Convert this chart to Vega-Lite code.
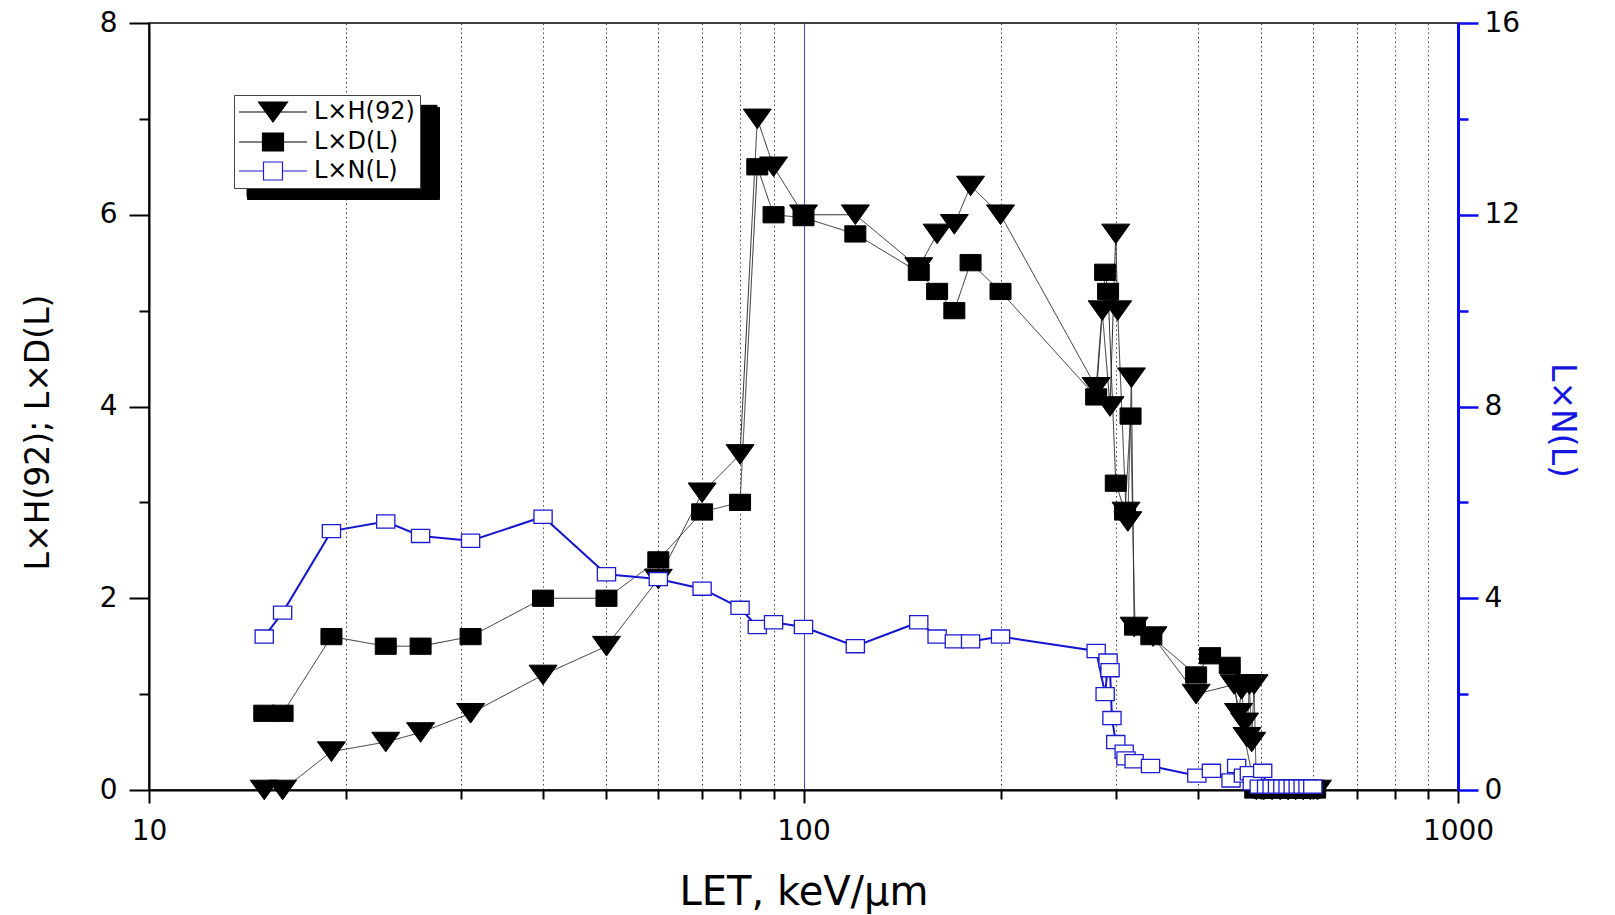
{
  "$schema": "https://vega.github.io/schema/vega-lite/v6.json",
  "width": 1309,
  "height": 767,
  "autosize": {"type": "none"},
  "padding": {"left": 149, "top": 23, "right": 157, "bottom": 125},
  "background": "white",
  "config": {
    "font": "DejaVu Sans",
    "axis": {"labelFont": "DejaVu Sans", "titleFont": "DejaVu Sans", "labelColor": "black", "titleColor": "black", "titleFontWeight": "normal", "domainColor": "black", "tickColor": "black"},
    "legend": {"labelFont": "DejaVu Sans"},
    "view": {"stroke": "black", "strokeWidth": 1.5}
  },
  "datasets": {
    "hd": [
      {"series": "L×H(92)", "let": 15, "v": 0},
      {"series": "L×H(92)", "let": 16, "v": 0},
      {"series": "L×H(92)", "let": 19, "v": 0.4},
      {"series": "L×H(92)", "let": 23, "v": 0.5},
      {"series": "L×H(92)", "let": 26, "v": 0.6},
      {"series": "L×H(92)", "let": 31, "v": 0.8},
      {"series": "L×H(92)", "let": 40, "v": 1.2},
      {"series": "L×H(92)", "let": 50, "v": 1.5},
      {"series": "L×H(92)", "let": 60, "v": 2.2},
      {"series": "L×H(92)", "let": 70, "v": 3.1},
      {"series": "L×H(92)", "let": 80, "v": 3.5},
      {"series": "L×H(92)", "let": 85, "v": 7.0},
      {"series": "L×H(92)", "let": 90, "v": 6.5},
      {"series": "L×H(92)", "let": 100, "v": 6.0},
      {"series": "L×H(92)", "let": 120, "v": 6.0},
      {"series": "L×H(92)", "let": 150, "v": 5.45},
      {"series": "L×H(92)", "let": 160, "v": 5.8},
      {"series": "L×H(92)", "let": 170, "v": 5.9},
      {"series": "L×H(92)", "let": 180, "v": 6.3},
      {"series": "L×H(92)", "let": 200, "v": 6.0},
      {"series": "L×H(92)", "let": 280, "v": 4.2},
      {"series": "L×H(92)", "let": 286, "v": 5.0},
      {"series": "L×H(92)", "let": 294, "v": 4.0},
      {"series": "L×H(92)", "let": 300, "v": 5.8},
      {"series": "L×H(92)", "let": 302, "v": 5.0},
      {"series": "L×H(92)", "let": 311, "v": 2.9},
      {"series": "L×H(92)", "let": 313, "v": 2.8},
      {"series": "L×H(92)", "let": 317, "v": 4.3},
      {"series": "L×H(92)", "let": 320, "v": 1.7},
      {"series": "L×H(92)", "let": 342, "v": 1.6},
      {"series": "L×H(92)", "let": 398, "v": 1.0},
      {"series": "L×H(92)", "let": 455, "v": 1.1},
      {"series": "L×H(92)", "let": 462, "v": 0.8},
      {"series": "L×H(92)", "let": 467, "v": 1.05},
      {"series": "L×H(92)", "let": 472, "v": 0.7},
      {"series": "L×H(92)", "let": 476, "v": 0.55},
      {"series": "L×H(92)", "let": 480, "v": 1.1},
      {"series": "L×H(92)", "let": 484, "v": 0.5},
      {"series": "L×H(92)", "let": 488, "v": 1.1},
      {"series": "L×H(92)", "let": 492, "v": 0},
      {"series": "L×H(92)", "let": 505, "v": 0},
      {"series": "L×H(92)", "let": 520, "v": 0},
      {"series": "L×H(92)", "let": 535, "v": 0},
      {"series": "L×H(92)", "let": 550, "v": 0},
      {"series": "L×H(92)", "let": 565, "v": 0},
      {"series": "L×H(92)", "let": 580, "v": 0},
      {"series": "L×H(92)", "let": 595, "v": 0},
      {"series": "L×H(92)", "let": 610, "v": 0},
      {"series": "L×D(L)", "let": 15, "v": 0.8},
      {"series": "L×D(L)", "let": 16, "v": 0.8},
      {"series": "L×D(L)", "let": 19, "v": 1.6},
      {"series": "L×D(L)", "let": 23, "v": 1.5},
      {"series": "L×D(L)", "let": 26, "v": 1.5},
      {"series": "L×D(L)", "let": 31, "v": 1.6},
      {"series": "L×D(L)", "let": 40, "v": 2.0},
      {"series": "L×D(L)", "let": 50, "v": 2.0},
      {"series": "L×D(L)", "let": 60, "v": 2.4},
      {"series": "L×D(L)", "let": 70, "v": 2.9},
      {"series": "L×D(L)", "let": 80, "v": 3.0},
      {"series": "L×D(L)", "let": 85, "v": 6.5},
      {"series": "L×D(L)", "let": 90, "v": 6.0},
      {"series": "L×D(L)", "let": 100, "v": 5.97},
      {"series": "L×D(L)", "let": 120, "v": 5.8},
      {"series": "L×D(L)", "let": 150, "v": 5.4},
      {"series": "L×D(L)", "let": 160, "v": 5.2},
      {"series": "L×D(L)", "let": 170, "v": 5.0},
      {"series": "L×D(L)", "let": 180, "v": 5.5},
      {"series": "L×D(L)", "let": 200, "v": 5.2},
      {"series": "L×D(L)", "let": 280, "v": 4.1},
      {"series": "L×D(L)", "let": 289, "v": 5.4},
      {"series": "L×D(L)", "let": 292, "v": 5.2},
      {"series": "L×D(L)", "let": 300, "v": 3.2},
      {"series": "L×D(L)", "let": 310, "v": 2.9},
      {"series": "L×D(L)", "let": 316, "v": 3.9},
      {"series": "L×D(L)", "let": 321, "v": 1.7},
      {"series": "L×D(L)", "let": 340, "v": 1.6},
      {"series": "L×D(L)", "let": 398, "v": 1.2},
      {"series": "L×D(L)", "let": 418, "v": 1.4},
      {"series": "L×D(L)", "let": 448, "v": 1.3},
      {"series": "L×D(L)", "let": 490, "v": 0},
      {"series": "L×D(L)", "let": 505, "v": 0},
      {"series": "L×D(L)", "let": 520, "v": 0},
      {"series": "L×D(L)", "let": 535, "v": 0},
      {"series": "L×D(L)", "let": 550, "v": 0},
      {"series": "L×D(L)", "let": 565, "v": 0},
      {"series": "L×D(L)", "let": 580, "v": 0},
      {"series": "L×D(L)", "let": 595, "v": 0},
      {"series": "L×D(L)", "let": 605, "v": 0}
    ],
    "n": [
      {"series": "L×N(L)", "let": 15, "v": 3.2},
      {"series": "L×N(L)", "let": 16, "v": 3.7},
      {"series": "L×N(L)", "let": 19, "v": 5.4},
      {"series": "L×N(L)", "let": 23, "v": 5.6},
      {"series": "L×N(L)", "let": 26, "v": 5.3},
      {"series": "L×N(L)", "let": 31, "v": 5.2},
      {"series": "L×N(L)", "let": 40, "v": 5.7},
      {"series": "L×N(L)", "let": 50, "v": 4.5},
      {"series": "L×N(L)", "let": 60, "v": 4.4},
      {"series": "L×N(L)", "let": 70, "v": 4.2},
      {"series": "L×N(L)", "let": 80, "v": 3.8},
      {"series": "L×N(L)", "let": 85, "v": 3.4},
      {"series": "L×N(L)", "let": 90, "v": 3.5},
      {"series": "L×N(L)", "let": 100, "v": 3.4},
      {"series": "L×N(L)", "let": 120, "v": 3.0},
      {"series": "L×N(L)", "let": 150, "v": 3.5},
      {"series": "L×N(L)", "let": 160, "v": 3.2},
      {"series": "L×N(L)", "let": 170, "v": 3.1},
      {"series": "L×N(L)", "let": 180, "v": 3.1},
      {"series": "L×N(L)", "let": 200, "v": 3.2},
      {"series": "L×N(L)", "let": 280, "v": 2.9},
      {"series": "L×N(L)", "let": 289, "v": 2.0},
      {"series": "L×N(L)", "let": 292, "v": 2.7},
      {"series": "L×N(L)", "let": 294, "v": 2.5},
      {"series": "L×N(L)", "let": 296, "v": 1.5},
      {"series": "L×N(L)", "let": 300, "v": 1.0},
      {"series": "L×N(L)", "let": 309, "v": 0.8},
      {"series": "L×N(L)", "let": 311, "v": 0.66},
      {"series": "L×N(L)", "let": 320, "v": 0.6},
      {"series": "L×N(L)", "let": 339, "v": 0.5},
      {"series": "L×N(L)", "let": 399, "v": 0.3},
      {"series": "L×N(L)", "let": 420, "v": 0.4},
      {"series": "L×N(L)", "let": 450, "v": 0.2},
      {"series": "L×N(L)", "let": 459, "v": 0.5},
      {"series": "L×N(L)", "let": 470, "v": 0.3},
      {"series": "L×N(L)", "let": 480, "v": 0.35},
      {"series": "L×N(L)", "let": 485, "v": 0.14},
      {"series": "L×N(L)", "let": 497, "v": 0.07},
      {"series": "L×N(L)", "let": 503, "v": 0.4},
      {"series": "L×N(L)", "let": 510, "v": 0.07},
      {"series": "L×N(L)", "let": 520, "v": 0.07},
      {"series": "L×N(L)", "let": 530, "v": 0.07},
      {"series": "L×N(L)", "let": 540, "v": 0.07},
      {"series": "L×N(L)", "let": 550, "v": 0.07},
      {"series": "L×N(L)", "let": 560, "v": 0.07},
      {"series": "L×N(L)", "let": 570, "v": 0.07},
      {"series": "L×N(L)", "let": 580, "v": 0.07},
      {"series": "L×N(L)", "let": 590, "v": 0.07},
      {"series": "L×N(L)", "let": 600, "v": 0.07}
    ]
  },
  "layer": [
    {
      "data": {"name": "hd"},
      "layer": [
        {
          "mark": {"type": "line", "color": "#2a2a2a", "strokeWidth": 1},
          "encoding": {
            "x": {"field": "let", "type": "quantitative", "scale": {"type": "log", "domain": [10, 1000], "nice": false},
              "axis": {
                "orient": "bottom",
                "values": [10, 20, 30, 40, 50, 60, 70, 80, 90, 100, 200, 300, 400, 500, 600, 700, 800, 900, 1000],
                "format": "d",
                "labelExpr": "(datum.value == 10 || datum.value == 100 || datum.value == 1000) ? datum.label : ''",
                "labelFontSize": 28, "labelPadding": 14, "labelFlush": false, "labelOverlap": false,
                "tickSize": {"condition": {"test": "datum.value == 10 || datum.value == 100 || datum.value == 1000", "value": 13}, "value": 9},
                "tickWidth": 2, "domainWidth": 2,
                "grid": true,
                "gridColor": {"condition": {"test": "datum.value == 100", "value": "#4646c8"}, "value": "#444444"},
                "gridDash": {"condition": {"test": "datum.value == 100", "value": []}, "value": [1.5, 3]},
                "gridWidth": 1,
                "title": "LET, keV/μm", "titleFontSize": 40, "titleBaseline": "alphabetic", "titleY": 114
              }},
            "y": {"field": "v", "type": "quantitative", "scale": {"domain": [0, 8], "nice": false},
              "axis": {
                "orient": "left",
                "values": [0, 1, 2, 3, 4, 5, 6, 7, 8],
                "format": "d",
                "labelExpr": "datum.value % 2 == 0 ? datum.label : ''",
                "labelFontSize": 28, "labelPadding": 12,
                "tickSize": {"condition": {"test": "datum.value % 2 == 0", "value": 20}, "value": 10},
                "tickWidth": 2, "domainWidth": 2, "grid": false,
                "title": "L×H(92); L×D(L)", "titleFontSize": 33, "titleAngle": -90, "titleX": -101, "titleY": 409, "titleBaseline": "alphabetic", "titleAlign": "center"
              }},
            "strokeDash": {"field": "series", "type": "nominal",
              "scale": {"domain": ["L×N(L)", "L×D(L)", "L×H(92)"], "range": [[1, 0], [1, 0], [1, 0]]},
              "legend": {
                "orient": "none", "legendX": 98, "legendY": 84, "title": null,
                "fillColor": "black", "strokeColor": "black", "padding": 0,
                "symbolSize": 400, "symbolStrokeWidth": 1, "symbolOffset": 22,
                "symbolType": "M-3.4,-1.37H15.6V1.37H-3.4Z",
                "symbolFillColor": "black", "symbolStrokeColor": "black",
                "labelExpr": "''", "labelFontSize": 24, "labelOffset": 29, "rowPadding": 0, "labelColor": "black"
              }}
          }
        },
        {
          "mark": {"type": "point", "size": 784, "strokeWidth": 1, "opacity": 1, "filled": true},
          "encoding": {
            "x": {"field": "let", "type": "quantitative"},
            "y": {"field": "v", "type": "quantitative"},
            "shape": {"field": "series", "type": "nominal",
              "scale": {"domain": ["L×H(92)", "L×D(L)", "L×N(L)"], "range": ["M-1,-0.7L1,-0.7L0,0.7Z", "M-0.75,-0.58H0.75V0.58H-0.75Z", "M-0.65,-0.47H0.65V0.47H-0.65Z"]}, "legend": null},
            "fill": {"field": "series", "type": "nominal", "scale": {"domain": ["L×H(92)", "L×D(L)", "L×N(L)"], "range": ["black", "black", "white"]}, "legend": null},
            "stroke": {"field": "series", "type": "nominal", "scale": {"domain": ["L×H(92)", "L×D(L)", "L×N(L)"], "range": ["black", "black", "#1c1cd0"]}, "legend": null}
          }
        }
      ]
    },
    {
      "data": {"name": "n"},
      "layer": [
        {
          "mark": {"type": "line", "color": "#1515d0", "strokeWidth": 2},
          "encoding": {
            "x": {"field": "let", "type": "quantitative"},
            "y": {"field": "v", "type": "quantitative", "scale": {"domain": [0, 16], "nice": false},
              "axis": {
                "orient": "right",
                "values": [0, 2, 4, 6, 8, 10, 12, 14, 16],
                "format": "d",
                "labelExpr": "datum.value % 4 == 0 ? datum.label : ''",
                "labelFontSize": 28, "labelPadding": 6,
                "tickSize": {"condition": {"test": "datum.value % 4 == 0", "value": 20}, "value": 10},
                "tickColor": "#0a0af0", "tickWidth": 2.5, "domainColor": "#0a0af0", "domainWidth": 3, "grid": false,
                "title": "L×N(L)", "titleColor": "#1515e0", "titleFontSize": 33, "titleAngle": 90, "titleX": 93, "titleY": 397, "titleBaseline": "alphabetic", "titleAlign": "center"
              }}
          }
        },
        {
          "mark": {"type": "point", "size": 784, "strokeWidth": 1.3, "opacity": 1, "filled": true},
          "encoding": {
            "x": {"field": "let", "type": "quantitative"},
            "y": {"field": "v", "type": "quantitative"},
            "shape": {"field": "series", "type": "nominal",
              "scale": {"domain": ["L×H(92)", "L×D(L)", "L×N(L)"], "range": ["M-1,-0.7L1,-0.7L0,0.7Z", "M-0.75,-0.58H0.75V0.58H-0.75Z", "M-0.65,-0.47H0.65V0.47H-0.65Z"]}, "legend": null},
            "fill": {"field": "series", "type": "nominal", "scale": {"domain": ["L×H(92)", "L×D(L)", "L×N(L)"], "range": ["black", "black", "white"]}, "legend": null},
            "stroke": {"field": "series", "type": "nominal", "scale": {"domain": ["L×H(92)", "L×D(L)", "L×N(L)"], "range": ["black", "black", "#1c1cd0"]}, "legend": null}
          }
        }
      ]
    },
    {
      "data": {"name": "n"},
      "transform": [{"filter": "false"}],
      "mark": {"type": "point", "filled": true, "opacity": 1, "strokeWidth": 1.2},
      "encoding": {
        "shape": {"field": "series", "type": "nominal",
          "scale": {"domain": ["L×H(92)", "L×D(L)", "L×N(L)"], "range": ["M-3.4,0H3.4M-1.45,-1L1.45,-1L0,1Z", "M-3.4,0H3.4M-1.05,-0.9H1.05V0.9H-1.05Z", "M-3.4,0H-0.95M0.95,0H3.4M-0.95,-0.9H0.95V0.9H-0.95Z"]},
          "legend": {
            "orient": "none", "legendX": 85, "legendY": 72, "title": null,
            "fillColor": "white", "strokeColor": "#444444", "padding": 5,
            "symbolSize": 400, "symbolStrokeWidth": 1.2, "symbolOffset": 22, "symbolOpacity": 1,
            "labelFontSize": 24, "labelOffset": 29, "rowPadding": 5, "labelColor": "black"
          }},
        "fill": {"field": "series", "type": "nominal",
          "scale": {"domain": ["L×H(92)", "L×D(L)", "L×N(L)"], "range": ["black", "black", "white"]},
          "legend": {
            "orient": "none", "legendX": 85, "legendY": 72, "title": null,
            "fillColor": "white", "strokeColor": "#444444", "padding": 5,
            "symbolSize": 400, "symbolStrokeWidth": 1.2, "symbolOffset": 22, "symbolOpacity": 1,
            "labelFontSize": 24, "labelOffset": 29, "rowPadding": 5, "labelColor": "black"
          }},
        "stroke": {"field": "series", "type": "nominal",
          "scale": {"domain": ["L×H(92)", "L×D(L)", "L×N(L)"], "range": ["black", "black", "#1c1cd0"]},
          "legend": {
            "orient": "none", "legendX": 85, "legendY": 72, "title": null,
            "fillColor": "white", "strokeColor": "#444444", "padding": 5,
            "symbolSize": 400, "symbolStrokeWidth": 1.2, "symbolOffset": 22, "symbolOpacity": 1,
            "labelFontSize": 24, "labelOffset": 29, "rowPadding": 5, "labelColor": "black"
          }}
      }
    }
  ],
  "resolve": {"scale": {"y": "independent", "shape": "independent", "fill": "independent", "stroke": "independent"}}
}
